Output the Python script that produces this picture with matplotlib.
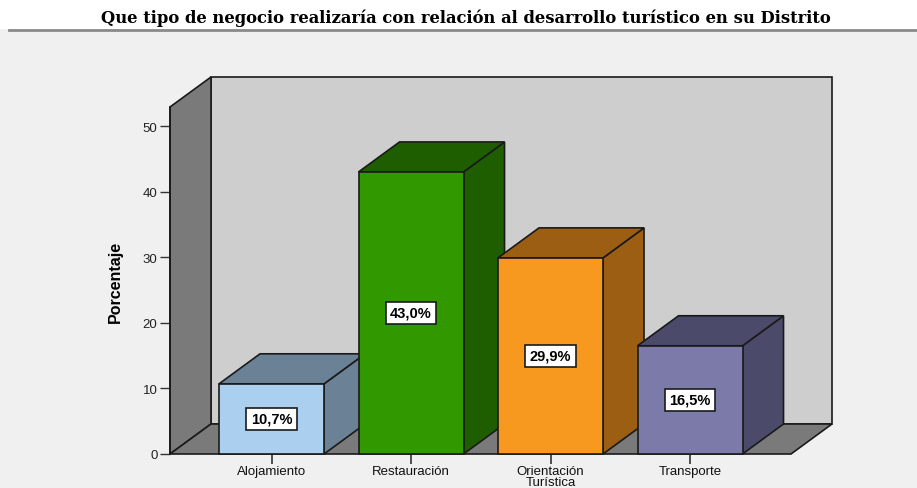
import numpy as np
import matplotlib
matplotlib.use("Agg")
import matplotlib.pyplot as plt
from matplotlib.patches import Polygon, Rectangle
from matplotlib.lines import Line2D

# ── Data ─────────────────────────────────────────────────────────────────────
categories = ["Alojamiento", "Restauración", "Orientación\nTurística", "Transporte"]
values = [10.7, 43.0, 29.9, 16.5]
labels = ["10,7%", "43,0%", "29,9%", "16,5%"]
yticks = [0, 10, 20, 30, 40, 50]

front_colors = ["#abcfee", "#329800", "#f7981f", "#7b7aa9"]
dark_colors = ["#6b8296", "#1f5e00", "#9b5e13", "#4b4a6a"]

title = "Que tipo de negocio realizaría con relación al desarrollo turístico en su Distrito"

# ── Figure ───────────────────────────────────────────────────────────────────
W, H = 917, 489
fig = plt.figure(figsize=(W / 100, H / 100), dpi=100)
fig.patch.set_facecolor("#f0f0f0")

# white title strip + separator line
fig.add_artist(Rectangle((0, 1 - 30 / H), 1, 30 / H, transform=fig.transFigure,
                         facecolor="white", edgecolor="none"))
fig.add_artist(Line2D([0.010, 1], [1 - 31 / H, 1 - 31 / H], transform=fig.transFigure,
                      color="#8a8a8a", lw=2))
fig.text(0.508, 1 - 18 / H, title, ha="center", va="center",
         family="DejaVu Serif", fontweight="bold", fontsize=11.8)

# front plane of the 3D box, in pixels
px_l, px_r, px_b, px_t = 170, 791, 455, 108
ax = fig.add_axes([px_l / W, 1 - px_b / H, (px_r - px_l) / W, (px_b - px_t) / H])
ax.set_facecolor("none")

x = np.arange(len(values))
xmin, xmax = -0.728, 3.724
ymax = 52.9
ax.set_xlim(xmin, xmax)
ax.set_ylim(0, ymax)

# depth offset in data units (41 px right, 30 px up)
dx = 41 / ((px_r - px_l) / (xmax - xmin))
dy = 30 / ((px_b - px_t) / ymax)

ec = "#1a1a1a"
wall_kw = dict(edgecolor=ec, lw=1.2, clip_on=False, joinstyle="miter")

# left wall, floor, back wall
ax.add_patch(Polygon([(xmin, 0), (xmin, ymax), (xmin + dx, ymax + dy), (xmin + dx, dy)],
                     facecolor="#7a7a7a", zorder=1, **wall_kw))
ax.add_patch(Polygon([(xmin, 0), (xmax, 0), (xmax + dx, dy), (xmin + dx, dy)],
                     facecolor="#7a7a7a", zorder=1, **wall_kw))
ax.add_patch(Polygon([(xmin + dx, dy), (xmax + dx, dy), (xmax + dx, ymax + dy), (xmin + dx, ymax + dy)],
                     facecolor="#cecece", zorder=0.5, **wall_kw))

# bars
bw = 105 / 139.5
for i, (xi, v) in enumerate(zip(x, values)):
    l, r = xi - bw / 2, xi + bw / 2
    ax.add_patch(Polygon([(r, 0), (r + dx, dy), (r + dx, v + dy), (r, v)],
                         facecolor=dark_colors[i], zorder=2, **wall_kw))
    ax.add_patch(Polygon([(l, v), (r, v), (r + dx, v + dy), (l + dx, v + dy)],
                         facecolor=dark_colors[i], zorder=2, **wall_kw))
    ax.add_patch(Rectangle((l, 0), bw, v, facecolor=front_colors[i], zorder=3, **wall_kw))
    ax.text(xi, v / 2, labels[i], ha="center", va="center", fontsize=10.5,
            fontweight="bold", family="Liberation Sans", zorder=4,
            bbox=dict(boxstyle="square,pad=0.3", facecolor="white", edgecolor=ec, lw=1.2))

# axes decoration
for s in ["top", "right", "bottom"]:
    ax.spines[s].set_visible(False)
ax.spines["left"].set_color(ec)
ax.spines["left"].set_linewidth(1.2)
ax.spines["left"].set_zorder(5)

ax.set_yticks(yticks)
ax.set_yticklabels([str(t) for t in yticks], family="Liberation Sans", fontsize=9.5,
                   color="#222222")
ax.tick_params(axis="y", length=7, width=1, color="#333333", pad=2)
ax.set_xticks(x)
ax.set_xticklabels(categories, family="Liberation Sans", fontsize=9.5,
                   linespacing=0.85, color="#111111")
ax.tick_params(axis="x", length=7, width=1.2, color="#333333", pad=1)

ax.set_ylabel("Porcentaje", family="Liberation Sans", fontweight="bold",
              fontsize=11.5, labelpad=14)

fig.savefig("out.png", dpi=100, facecolor=fig.get_facecolor())
